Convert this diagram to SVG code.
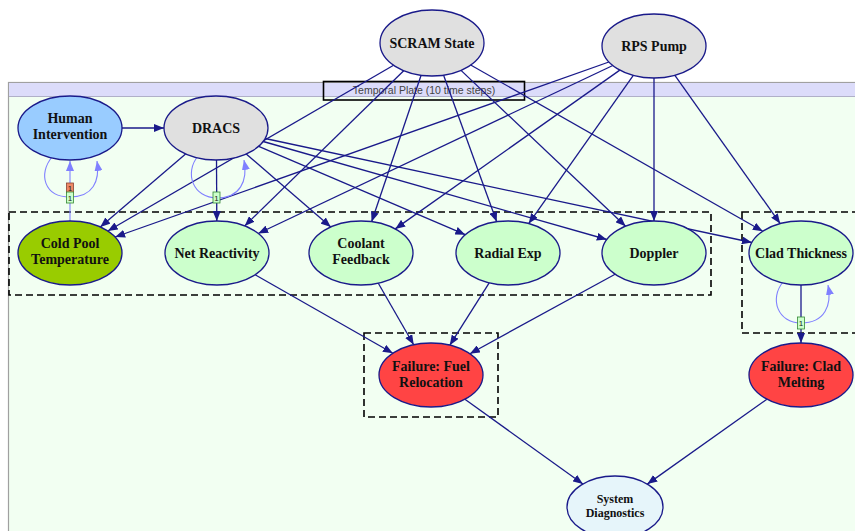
<svg xmlns="http://www.w3.org/2000/svg" width="855" height="531" viewBox="0 0 855 531">
<defs>
<style>
.n{stroke:#1a1a8a;stroke-width:1.3}
.g{fill:#e0e0e0}.lg{fill:#ccffcc}.hb{fill:#99ccff}.cp{fill:#99cc00}.rd{fill:#ff4444}.sd{fill:#e6f5fa}
.t{font-family:"Liberation Serif","Times New Roman",serif;font-weight:bold;font-size:14px;fill:#111;text-anchor:middle}
.ts{font-size:12px}
.e{stroke:#1a1a8a;stroke-width:1.3;fill:none;marker-end:url(#a)}
.tp{stroke:#8080ff;stroke-width:1.1;fill:none;marker-end:url(#b)}
.db{fill:none;stroke:#000;stroke-width:1.6;stroke-dasharray:7,4}
.lb{fill:#ccffcc;stroke:#338833;stroke-width:0.8}
.lr{fill:#ee8866;stroke:#884433;stroke-width:0.8}
.lt{font-family:"Liberation Sans",Arial,sans-serif;font-size:8px;fill:#222;text-anchor:middle}
</style>
<marker id="a" viewBox="0 0 10 8" refX="10" refY="4" markerWidth="10" markerHeight="8" markerUnits="userSpaceOnUse" orient="auto"><path d="M0,0 L10,4 L0,8 z" fill="#1a1a8a"/></marker>
<marker id="b" viewBox="0 0 10 8" refX="10" refY="4" markerWidth="10" markerHeight="8" markerUnits="userSpaceOnUse" orient="auto"><path d="M0,0 L10,4 L0,8 z" fill="#8080ff"/></marker>
</defs>
<rect width="855" height="531" fill="#ffffff"/>
<g id="plate">
<rect x="8.5" y="82.5" width="870" height="470" fill="#f2fff2" stroke="#a0a0a0" stroke-width="1.2"/>
<rect x="9" y="83" width="869" height="13.5" fill="#dcdcfa"/>
<line x1="9" y1="96.5" x2="855" y2="96.5" stroke="#b0b0c8" stroke-width="1"/>
<text x="424" y="93.5" font-family="Liberation Sans,Arial,sans-serif" font-size="10.5" fill="#444" text-anchor="middle">Temporal Plate (10 time steps)</text>
<rect x="323.5" y="81.5" width="201" height="18.5" fill="none" stroke="#000" stroke-width="1.6"/>
</g>
<g id="dashed-boxes">
<rect class="db" x="9" y="212" width="702" height="83"/>
<rect class="db" x="742" y="212" width="130" height="121"/>
<rect class="db" x="364" y="333" width="134" height="84"/>
</g>
<g id="connectors">
<path class="e" d="M393.6,65.3 L107.8,231"/>
<path class="e" d="M403.7,70.7 L244.7,225.9"/>
<path class="e" d="M421.1,75.3 L371.6,221.7"/>
<path class="e" d="M443.6,75.2 L496.7,221.8"/>
<path class="e" d="M461,70.4 L625.6,226.2"/>
<path class="e" d="M470.7,65 L762.8,231.3"/>
<path class="e" d="M608.9,62 L115.1,237"/>
<path class="e" d="M612.8,65.5 L258.2,233.5"/>
<path class="e" d="M619.8,70.1 L395.2,228.9"/>
<path class="e" d="M633.3,75.4 L528.7,223.6"/>
<path class="e" d="M654,78 L654,221"/>
<path class="e" d="M674.9,75.4 L780.2,223.6"/>
<path class="e" d="M185.6,154 L100.3,227"/>
<path class="e" d="M216.5,160 L216.8,221"/>
<path class="e" d="M246.2,154 L330.8,227"/>
<path class="e" d="M258.7,146.3 L465.3,234.7"/>
<path class="e" d="M263.2,141.5 L606.8,239.5"/>
<path class="e" d="M265.1,138.5 L751.9,242.5"/>
<path class="e" d="M122,128 L164,128"/>
<path class="e" d="M255.1,274.7 L392.9,353.3"/>
<path class="e" d="M378.3,283.2 L413.7,344.8"/>
<path class="e" d="M489.2,282.8 L449.8,345.2"/>
<path class="e" d="M615.1,274.3 L469.9,353.7"/>
<path class="e" d="M464.9,399.3 L582.9,484"/>
<path class="e" d="M766.9,399.2 L647.3,484.1"/>
<path class="e" d="M801,285 L801,343"/>
<path class="tp" d="M52,157 C38,174 44,197 70,197 C93,197 100,181 97,161"/>
<path class="tp" d="M70,221 L70,161"/>
<path class="tp" d="M198,156 C184,173 193,198 217,198 C240,198 248,181 244,160"/>
<path class="tp" d="M783,282 C769,299 778,323 801,323 C825,323 832,305 828,285"/>
<rect class="lr" x="66.5" y="183" width="7" height="10"/>
<text class="lt" x="70" y="191">1</text>
<rect class="lb" x="66.5" y="192" width="7" height="11"/>
<text class="lt" x="70" y="200.5">1</text>
<rect class="lb" x="213" y="192" width="7" height="11"/>
<text class="lt" x="216.5" y="200.5">1</text>
<rect class="lb" x="797.5" y="317" width="7" height="12"/>
<text class="lt" x="801" y="326">1</text>
</g>
<g id="scram"><ellipse class="n g" cx="432" cy="43" rx="52" ry="33"/><text class="t" x="432" y="48">SCRAM State</text></g>
<g id="rps"><ellipse class="n g" cx="654" cy="46" rx="52" ry="32"/><text class="t" x="654" y="51">RPS Pump</text></g>
<g id="human"><ellipse class="n hb" cx="70" cy="128" rx="52" ry="32"/><text class="t" x="70" y="123">Human</text><text class="t" x="70" y="139">Intervention</text></g>
<g id="dracs"><ellipse class="n g" cx="216" cy="128" rx="52" ry="32"/><text class="t" x="216" y="133">DRACS</text></g>
<g id="coldpool"><ellipse class="n cp" cx="70" cy="253" rx="52" ry="32"/><text class="t" x="70" y="248">Cold Pool</text><text class="t" x="70" y="264">Temperature</text></g>
<g id="netreact"><ellipse class="n lg" cx="217" cy="253" rx="52" ry="32"/><text class="t" x="217" y="258">Net Reactivity</text></g>
<g id="coolant"><ellipse class="n lg" cx="361" cy="253" rx="52" ry="32"/><text class="t" x="361" y="248">Coolant</text><text class="t" x="361" y="264">Feedback</text></g>
<g id="radial"><ellipse class="n lg" cx="508" cy="253" rx="52" ry="32"/><text class="t" x="508" y="258">Radial Exp</text></g>
<g id="doppler"><ellipse class="n lg" cx="654" cy="253" rx="52" ry="32"/><text class="t" x="654" y="258">Doppler</text></g>
<g id="clad"><ellipse class="n lg" cx="801" cy="253" rx="52" ry="32"/><text class="t" x="801" y="258">Clad Thickness</text></g>
<g id="fuelreloc"><ellipse class="n rd" cx="431" cy="375" rx="52" ry="32"/><text class="t" x="431" y="371">Failure: Fuel</text><text class="t" x="431" y="387">Relocation</text></g>
<g id="cladmelt"><ellipse class="n rd" cx="801" cy="375" rx="52" ry="32"/><text class="t" x="801" y="371">Failure: Clad</text><text class="t" x="801" y="387">Melting</text></g>
<g id="sysdiag"><ellipse class="n sd" cx="615" cy="507" rx="48" ry="31"/><text class="t ts" x="615" y="503">System</text><text class="t ts" x="615" y="517">Diagnostics</text></g>
</svg>
